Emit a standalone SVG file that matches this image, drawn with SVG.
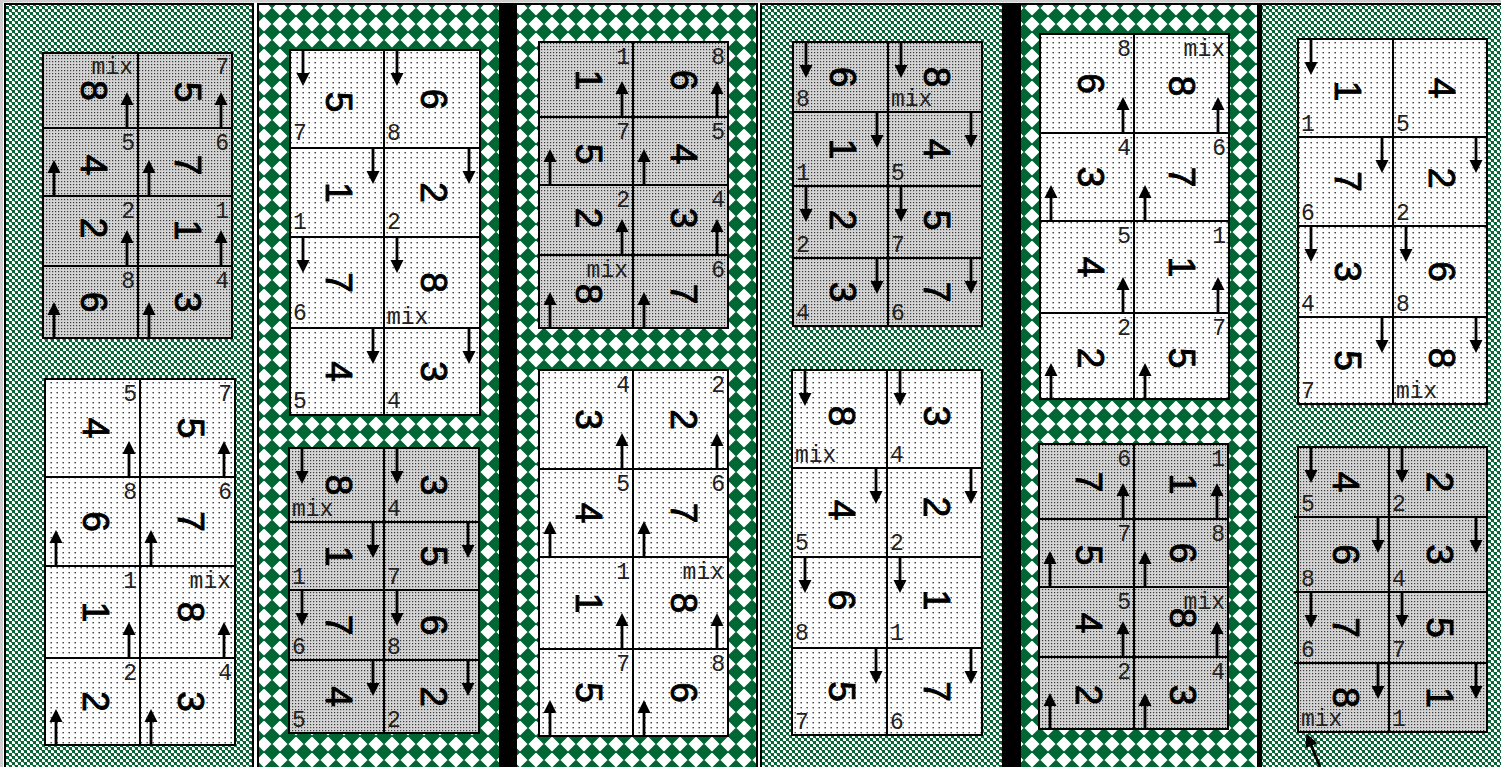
<svg xmlns="http://www.w3.org/2000/svg" xmlns:xlink="http://www.w3.org/1999/xlink" width="1501" height="767" viewBox="0 0 1501 767">
<style>
.d{font-family:"Liberation Sans",Arial,sans-serif;font-size:37px;text-anchor:middle;fill:#000;stroke:#000;stroke-width:0.9}
.l{font-family:"Liberation Mono","Courier New",monospace;font-size:23px;fill:#222}
.e{text-anchor:end}
.sh{fill:url(#shade);stroke:#000;stroke-width:2}
.wh{fill:url(#dots);stroke:#000;stroke-width:2}
.col{stroke:#000;stroke-width:2}
</style>
<defs>
<pattern id="spk" width="6" height="6" patternUnits="userSpaceOnUse"><rect width="6" height="6" fill="#fff"/><rect width="3" height="3" fill="#0a6636"/><rect x="3" y="3" width="3" height="3" fill="#0a6636"/><rect x="2" y="3" width="1" height="1" fill="#5a9a74"/><rect x="5" y="0" width="1" height="1" fill="#5a9a74"/></pattern>
<pattern id="dia" width="16" height="16" patternUnits="userSpaceOnUse"><rect width="16" height="16" fill="#fff"/><path d="M0,-8.5L8.5,0L0,8.5L-8.5,0ZM16,-8.5L24.5,0L16,8.5L7.5,0ZM0,7.5L8.5,16L0,24.5L-8.5,16ZM16,7.5L24.5,16L16,24.5L7.5,16Z" fill="#006633"/></pattern>
<pattern id="shade" width="3" height="3" patternUnits="userSpaceOnUse"><rect width="3" height="3" fill="#d4d4d4"/><rect x="1" y="1" width="1.2" height="1.2" fill="#3a3a3a"/></pattern>
<pattern id="dots" width="6" height="5" patternUnits="userSpaceOnUse"><rect width="6" height="5" fill="#fff"/><rect x="2.5" y="2" width="1.4" height="1.4" fill="#333"/></pattern>
<g id="au"><line x1="0" y1="0" x2="0" y2="-24" stroke="#000" stroke-width="2.8"/><path d="M-6.5,-23L0,-36L6.5,-23Z" fill="#000"/></g>
<g id="ad"><line x1="0" y1="0" x2="0" y2="24" stroke="#000" stroke-width="2.8"/><path d="M-6.5,23L0,36L6.5,23Z" fill="#000"/></g>
</defs>
<rect width="1501" height="767" fill="#fff"/>
<rect width="1501" height="2.5" fill="#cfcfcf"/>
<rect width="3" height="767" fill="#cfcfcf"/>
<g id="panels">
<rect class="col" x="5" y="4" width="248" height="775" fill="url(#spk)"/>
<rect class="col" x="258" y="4" width="242" height="775" fill="url(#dia)"/>
<rect x="500" y="3" width="16" height="775" fill="#000"/>
<rect class="col" x="516" y="4" width="241" height="775" fill="url(#dia)"/>
<rect class="col" x="761" y="4" width="242" height="775" fill="url(#spk)"/>
<rect x="1003" y="3" width="17" height="775" fill="#000"/>
<rect class="col" x="1020" y="4" width="238" height="775" fill="url(#dia)"/>
<rect class="col" x="1261" y="4" width="250" height="775" fill="url(#spk)"/>
<rect x="1258" y="3" width="4" height="775" fill="#000"/>
</g>

<g id="g1">
<g id="g1-r1l"><rect class="sh" x="43" y="53" width="95" height="75"/><text class="d" transform="translate(93.5 90.5) rotate(90)" y="13">8</text><text class="l e" x="133" y="74">mix</text></g>
<g id="g1-r1r"><rect class="sh" x="138" y="53" width="94" height="75"/><text class="d" transform="translate(188 92) rotate(90)" y="13">5</text><text class="l e" x="229" y="74">7</text></g>
<g id="g1-r2l"><rect class="sh" x="43" y="128" width="95" height="68"/><text class="d" transform="translate(93.5 165) rotate(90)" y="13">4</text><text class="l e" x="135" y="150">5</text></g>
<g id="g1-r2r"><rect class="sh" x="138" y="128" width="94" height="68"/><text class="d" transform="translate(188 165) rotate(90)" y="13">7</text><text class="l e" x="229" y="150">6</text></g>
<g id="g1-r3l"><rect class="sh" x="43" y="196" width="95" height="70"/><text class="d" transform="translate(93.5 228) rotate(90)" y="13">2</text><text class="l e" x="135" y="218">2</text></g>
<g id="g1-r3r"><rect class="sh" x="138" y="196" width="94" height="70"/><text class="d" transform="translate(188 230) rotate(90)" y="13">1</text><text class="l e" x="229" y="218">1</text></g>
<g id="g1-r4l"><rect class="sh" x="43" y="266" width="95" height="72"/><text class="d" transform="translate(93.5 302) rotate(90)" y="13">6</text><text class="l e" x="135" y="288">8</text></g>
<g id="g1-r4r"><rect class="sh" x="138" y="266" width="94" height="72"/><text class="d" transform="translate(188 302) rotate(90)" y="13">3</text><text class="l e" x="229" y="288">4</text></g>
</g>

<g id="g2">
<g id="g2-r1l"><rect class="wh" x="45" y="379" width="95" height="98"/><text class="d" transform="translate(95.5 428) rotate(90)" y="13">4</text><text class="l e" x="137" y="401">5</text></g>
<g id="g2-r1r"><rect class="wh" x="140" y="379" width="95" height="98"/><text class="d" transform="translate(190.5 428) rotate(90)" y="13">5</text><text class="l e" x="232" y="401">7</text></g>
<g id="g2-r2l"><rect class="wh" x="45" y="477" width="95" height="89"/><text class="d" transform="translate(95.5 521.5) rotate(90)" y="13">6</text><text class="l e" x="137" y="499">8</text></g>
<g id="g2-r2r"><rect class="wh" x="140" y="477" width="95" height="89"/><text class="d" transform="translate(190.5 521.5) rotate(90)" y="13">7</text><text class="l e" x="232" y="499">6</text></g>
<g id="g2-r3l"><rect class="wh" x="45" y="566" width="95" height="92"/><text class="d" transform="translate(95.5 612) rotate(90)" y="13">1</text><text class="l e" x="137" y="588">1</text></g>
<g id="g2-r3r"><rect class="wh" x="140" y="566" width="95" height="92"/><text class="d" transform="translate(190.5 612) rotate(90)" y="13">8</text><text class="l e" x="231" y="588">mix</text></g>
<g id="g2-r4l"><rect class="wh" x="45" y="658" width="95" height="87"/><text class="d" transform="translate(95.5 701.5) rotate(90)" y="13">2</text><text class="l e" x="137" y="680">2</text></g>
<g id="g2-r4r"><rect class="wh" x="140" y="658" width="95" height="87"/><text class="d" transform="translate(190.5 701.5) rotate(90)" y="13">3</text><text class="l e" x="232" y="680">4</text></g>
</g>

<g id="g3">
<g id="g3-r1l"><rect class="wh" x="290" y="50" width="94" height="98"/><text class="d" transform="translate(339 102) rotate(90)" y="13">5</text><text class="l" x="293" y="140">7</text></g>
<g id="g3-r1r"><rect class="wh" x="384" y="50" width="96" height="98"/><text class="d" transform="translate(434 99) rotate(90)" y="13">6</text><text class="l" x="387" y="140">8</text></g>
<g id="g3-r2l"><rect class="wh" x="290" y="148" width="94" height="89"/><text class="d" transform="translate(339 192.5) rotate(90)" y="13">1</text><text class="l" x="293" y="229">1</text></g>
<g id="g3-r2r"><rect class="wh" x="384" y="148" width="96" height="89"/><text class="d" transform="translate(434 192.5) rotate(90)" y="13">2</text><text class="l" x="387" y="229">2</text></g>
<g id="g3-r3l"><rect class="wh" x="290" y="237" width="94" height="91"/><text class="d" transform="translate(339 282.5) rotate(90)" y="13">7</text><text class="l" x="293" y="320">6</text></g>
<g id="g3-r3r"><rect class="wh" x="384" y="237" width="96" height="91"/><text class="d" transform="translate(434 282.5) rotate(90)" y="13">8</text><text class="l" x="387" y="324">mix</text></g>
<g id="g3-r4l"><rect class="wh" x="290" y="328" width="94" height="87"/><text class="d" transform="translate(339 371.5) rotate(90)" y="13">4</text><text class="l" x="293" y="408">5</text></g>
<g id="g3-r4r"><rect class="wh" x="384" y="328" width="96" height="87"/><text class="d" transform="translate(434 371.5) rotate(90)" y="13">3</text><text class="l" x="387" y="408">4</text></g>
</g>

<g id="g4">
<g id="g4-r1l"><rect class="sh" x="289" y="448" width="95" height="74"/><text class="d" transform="translate(338.5 485) rotate(90)" y="13">8</text><text class="l" x="292" y="516">mix</text></g>
<g id="g4-r1r"><rect class="sh" x="384" y="448" width="95" height="74"/><text class="d" transform="translate(433.5 485) rotate(90)" y="13">3</text><text class="l" x="387" y="516">4</text></g>
<g id="g4-r2l"><rect class="sh" x="289" y="522" width="95" height="68"/><text class="d" transform="translate(338.5 556) rotate(90)" y="13">1</text><text class="l" x="292" y="584">1</text></g>
<g id="g4-r2r"><rect class="sh" x="384" y="522" width="95" height="68"/><text class="d" transform="translate(433.5 556) rotate(90)" y="13">5</text><text class="l" x="387" y="584">7</text></g>
<g id="g4-r3l"><rect class="sh" x="289" y="590" width="95" height="70"/><text class="d" transform="translate(338.5 625) rotate(90)" y="13">7</text><text class="l" x="292" y="654">6</text></g>
<g id="g4-r3r"><rect class="sh" x="384" y="590" width="95" height="70"/><text class="d" transform="translate(433.5 625) rotate(90)" y="13">6</text><text class="l" x="387" y="654">8</text></g>
<g id="g4-r4l"><rect class="sh" x="289" y="660" width="95" height="73"/><text class="d" transform="translate(338.5 696.5) rotate(90)" y="13">4</text><text class="l" x="292" y="727">5</text></g>
<g id="g4-r4r"><rect class="sh" x="384" y="660" width="95" height="73"/><text class="d" transform="translate(433.5 696.5) rotate(90)" y="13">2</text><text class="l" x="387" y="727">2</text></g>
</g>

<g id="g5">
<g id="g5-r1l"><rect class="sh" x="539" y="42" width="94" height="75"/><text class="d" transform="translate(589 80) rotate(90)" y="13">1</text><text class="l e" x="630" y="64">1</text></g>
<g id="g5-r1r"><rect class="sh" x="633" y="42" width="95" height="75"/><text class="d" transform="translate(683.5 80) rotate(90)" y="13">6</text><text class="l e" x="725" y="64">8</text></g>
<g id="g5-r2l"><rect class="sh" x="539" y="117" width="94" height="68"/><text class="d" transform="translate(589 154) rotate(90)" y="13">5</text><text class="l e" x="630" y="139">7</text></g>
<g id="g5-r2r"><rect class="sh" x="633" y="117" width="95" height="68"/><text class="d" transform="translate(683.5 154) rotate(90)" y="13">4</text><text class="l e" x="725" y="139">5</text></g>
<g id="g5-r3l"><rect class="sh" x="539" y="185" width="94" height="70"/><text class="d" transform="translate(589 218) rotate(90)" y="13">2</text><text class="l e" x="630" y="207">2</text></g>
<g id="g5-r3r"><rect class="sh" x="633" y="185" width="95" height="70"/><text class="d" transform="translate(683.5 218) rotate(90)" y="13">3</text><text class="l e" x="725" y="207">4</text></g>
<g id="g5-r4l"><rect class="sh" x="539" y="255" width="94" height="73"/><text class="d" transform="translate(589 294) rotate(90)" y="13">8</text><text class="l e" x="628" y="277">mix</text></g>
<g id="g5-r4r"><rect class="sh" x="633" y="255" width="95" height="73"/><text class="d" transform="translate(683.5 294) rotate(90)" y="13">7</text><text class="l e" x="725" y="277">6</text></g>
</g>

<g id="g6">
<g id="g6-r1l"><rect class="wh" x="539" y="370" width="94" height="99"/><text class="d" transform="translate(589 419.5) rotate(90)" y="13">3</text><text class="l e" x="630" y="392">4</text></g>
<g id="g6-r1r"><rect class="wh" x="633" y="370" width="95" height="99"/><text class="d" transform="translate(683.5 419.5) rotate(90)" y="13">2</text><text class="l e" x="725" y="392">2</text></g>
<g id="g6-r2l"><rect class="wh" x="539" y="469" width="94" height="88"/><text class="d" transform="translate(589 513) rotate(90)" y="13">4</text><text class="l e" x="630" y="491">5</text></g>
<g id="g6-r2r"><rect class="wh" x="633" y="469" width="95" height="88"/><text class="d" transform="translate(683.5 513) rotate(90)" y="13">7</text><text class="l e" x="725" y="491">6</text></g>
<g id="g6-r3l"><rect class="wh" x="539" y="557" width="94" height="92"/><text class="d" transform="translate(589 603) rotate(90)" y="13">1</text><text class="l e" x="630" y="579">1</text></g>
<g id="g6-r3r"><rect class="wh" x="633" y="557" width="95" height="92"/><text class="d" transform="translate(683.5 603) rotate(90)" y="13">8</text><text class="l e" x="724" y="579">mix</text></g>
<g id="g6-r4l"><rect class="wh" x="539" y="649" width="94" height="87"/><text class="d" transform="translate(589 692.5) rotate(90)" y="13">5</text><text class="l e" x="630" y="671">7</text></g>
<g id="g6-r4r"><rect class="wh" x="633" y="649" width="95" height="87"/><text class="d" transform="translate(683.5 692.5) rotate(90)" y="13">6</text><text class="l e" x="725" y="671">8</text></g>
</g>

<g id="g7">
<g id="g7-r1l"><rect class="sh" x="793" y="42" width="95" height="70"/><text class="d" transform="translate(842.5 77) rotate(90)" y="13">6</text><text class="l" x="796" y="106">8</text></g>
<g id="g7-r1r"><rect class="sh" x="888" y="42" width="94" height="70"/><text class="d" transform="translate(937 77) rotate(90)" y="13">8</text><text class="l" x="891" y="106">mix</text></g>
<g id="g7-r2l"><rect class="sh" x="793" y="112" width="95" height="74"/><text class="d" transform="translate(842.5 149) rotate(90)" y="13">1</text><text class="l" x="796" y="180">1</text></g>
<g id="g7-r2r"><rect class="sh" x="888" y="112" width="94" height="74"/><text class="d" transform="translate(937 149) rotate(90)" y="13">4</text><text class="l" x="891" y="180">5</text></g>
<g id="g7-r3l"><rect class="sh" x="793" y="186" width="95" height="72"/><text class="d" transform="translate(842.5 220) rotate(90)" y="13">2</text><text class="l" x="796" y="252">2</text></g>
<g id="g7-r3r"><rect class="sh" x="888" y="186" width="94" height="72"/><text class="d" transform="translate(937 220) rotate(90)" y="13">5</text><text class="l" x="891" y="252">7</text></g>
<g id="g7-r4l"><rect class="sh" x="793" y="258" width="95" height="68"/><text class="d" transform="translate(842.5 292) rotate(90)" y="13">3</text><text class="l" x="796" y="320">4</text></g>
<g id="g7-r4r"><rect class="sh" x="888" y="258" width="94" height="68"/><text class="d" transform="translate(937 292) rotate(90)" y="13">7</text><text class="l" x="891" y="320">6</text></g>
</g>

<g id="g8">
<g id="g8-r1l"><rect class="wh" x="792" y="370" width="95" height="98"/><text class="d" transform="translate(841.5 416) rotate(90)" y="13">8</text><text class="l" x="795" y="462">mix</text></g>
<g id="g8-r1r"><rect class="wh" x="887" y="370" width="95" height="98"/><text class="d" transform="translate(936.5 416) rotate(90)" y="13">3</text><text class="l" x="890" y="462">4</text></g>
<g id="g8-r2l"><rect class="wh" x="792" y="468" width="95" height="89"/><text class="d" transform="translate(841.5 510) rotate(90)" y="13">4</text><text class="l" x="795" y="550">5</text></g>
<g id="g8-r2r"><rect class="wh" x="887" y="468" width="95" height="89"/><text class="d" transform="translate(936.5 507) rotate(90)" y="13">2</text><text class="l" x="890" y="550">2</text></g>
<g id="g8-r3l"><rect class="wh" x="792" y="557" width="95" height="91"/><text class="d" transform="translate(841.5 600) rotate(90)" y="13">6</text><text class="l" x="795" y="640">8</text></g>
<g id="g8-r3r"><rect class="wh" x="887" y="557" width="95" height="91"/><text class="d" transform="translate(936.5 600) rotate(90)" y="13">1</text><text class="l" x="890" y="640">1</text></g>
<g id="g8-r4l"><rect class="wh" x="792" y="648" width="95" height="87"/><text class="d" transform="translate(841.5 691.5) rotate(90)" y="13">5</text><text class="l" x="795" y="729">7</text></g>
<g id="g8-r4r"><rect class="wh" x="887" y="648" width="95" height="87"/><text class="d" transform="translate(936.5 691.5) rotate(90)" y="13">7</text><text class="l" x="890" y="729">6</text></g>
</g>

<g id="g9">
<g id="g9-r1l"><rect class="wh" x="1040" y="34" width="94" height="99"/><text class="d" transform="translate(1091 83.5) rotate(90)" y="13">6</text><text class="l e" x="1131" y="56">8</text></g>
<g id="g9-r1r"><rect class="wh" x="1134" y="34" width="95" height="99"/><text class="d" transform="translate(1182 86) rotate(90)" y="13">8</text><text class="l e" x="1225" y="56">mix</text></g>
<g id="g9-r2l"><rect class="wh" x="1040" y="133" width="94" height="88"/><text class="d" transform="translate(1091 177) rotate(90)" y="13">3</text><text class="l e" x="1131" y="155">4</text></g>
<g id="g9-r2r"><rect class="wh" x="1134" y="133" width="95" height="88"/><text class="d" transform="translate(1182 177) rotate(90)" y="13">7</text><text class="l e" x="1226" y="155">6</text></g>
<g id="g9-r3l"><rect class="wh" x="1040" y="221" width="94" height="92"/><text class="d" transform="translate(1091 267) rotate(90)" y="13">4</text><text class="l e" x="1131" y="243">5</text></g>
<g id="g9-r3r"><rect class="wh" x="1134" y="221" width="95" height="92"/><text class="d" transform="translate(1182 267) rotate(90)" y="13">1</text><text class="l e" x="1226" y="243">1</text></g>
<g id="g9-r4l"><rect class="wh" x="1040" y="313" width="94" height="86"/><text class="d" transform="translate(1091 358) rotate(90)" y="13">2</text><text class="l e" x="1131" y="335">2</text></g>
<g id="g9-r4r"><rect class="wh" x="1134" y="313" width="95" height="86"/><text class="d" transform="translate(1182 358) rotate(90)" y="13">5</text><text class="l e" x="1226" y="335">7</text></g>
</g>

<g id="g10">
<g id="g10-r1l"><rect class="sh" x="1039" y="444" width="95" height="75"/><text class="d" transform="translate(1088.5 482) rotate(90)" y="13">7</text><text class="l e" x="1131" y="466">6</text></g>
<g id="g10-r1r"><rect class="sh" x="1134" y="444" width="94" height="75"/><text class="d" transform="translate(1183 484) rotate(90)" y="13">1</text><text class="l e" x="1225" y="466">1</text></g>
<g id="g10-r2l"><rect class="sh" x="1039" y="519" width="95" height="68"/><text class="d" transform="translate(1088.5 555) rotate(90)" y="13">5</text><text class="l e" x="1131" y="541">7</text></g>
<g id="g10-r2r"><rect class="sh" x="1134" y="519" width="94" height="68"/><text class="d" transform="translate(1183 553) rotate(90)" y="13">6</text><text class="l e" x="1225" y="541">8</text></g>
<g id="g10-r3l"><rect class="sh" x="1039" y="587" width="95" height="70"/><text class="d" transform="translate(1088.5 623) rotate(90)" y="13">4</text><text class="l e" x="1131" y="609">5</text></g>
<g id="g10-r3r"><rect class="sh" x="1134" y="587" width="94" height="70"/><text class="d" transform="translate(1183 618) rotate(90)" y="13">8</text><text class="l e" x="1225" y="609">mix</text></g>
<g id="g10-r4l"><rect class="sh" x="1039" y="657" width="95" height="72"/><text class="d" transform="translate(1088.5 695) rotate(90)" y="13">2</text><text class="l e" x="1131" y="679">2</text></g>
<g id="g10-r4r"><rect class="sh" x="1134" y="657" width="94" height="72"/><text class="d" transform="translate(1183 695) rotate(90)" y="13">3</text><text class="l e" x="1225" y="679">4</text></g>
</g>

<g id="g11">
<g id="g11-r1l"><rect class="wh" x="1298" y="39" width="95" height="98"/><text class="d" transform="translate(1347.5 91) rotate(90)" y="13">1</text><text class="l" x="1301" y="131">1</text></g>
<g id="g11-r1r"><rect class="wh" x="1393" y="39" width="94" height="98"/><text class="d" transform="translate(1442 88) rotate(90)" y="13">4</text><text class="l" x="1396" y="131">5</text></g>
<g id="g11-r2l"><rect class="wh" x="1298" y="137" width="95" height="89"/><text class="d" transform="translate(1347.5 181.5) rotate(90)" y="13">7</text><text class="l" x="1301" y="220">6</text></g>
<g id="g11-r2r"><rect class="wh" x="1393" y="137" width="94" height="89"/><text class="d" transform="translate(1442 178) rotate(90)" y="13">2</text><text class="l" x="1396" y="220">2</text></g>
<g id="g11-r3l"><rect class="wh" x="1298" y="226" width="95" height="91"/><text class="d" transform="translate(1347.5 271.5) rotate(90)" y="13">3</text><text class="l" x="1301" y="311">4</text></g>
<g id="g11-r3r"><rect class="wh" x="1393" y="226" width="94" height="91"/><text class="d" transform="translate(1442 271.5) rotate(90)" y="13">6</text><text class="l" x="1396" y="311">8</text></g>
<g id="g11-r4l"><rect class="wh" x="1298" y="317" width="95" height="87"/><text class="d" transform="translate(1347.5 360.5) rotate(90)" y="13">5</text><text class="l" x="1301" y="398">7</text></g>
<g id="g11-r4r"><rect class="wh" x="1393" y="317" width="94" height="87"/><text class="d" transform="translate(1442 358) rotate(90)" y="13">8</text><text class="l" x="1396" y="398">mix</text></g>
</g>

<g id="g12">
<g id="g12-r1l"><rect class="sh" x="1298" y="447" width="91" height="70"/><text class="d" transform="translate(1345.5 482) rotate(90)" y="13">4</text><text class="l" x="1301" y="511">5</text></g>
<g id="g12-r1r"><rect class="sh" x="1389" y="447" width="98" height="70"/><text class="d" transform="translate(1440 482) rotate(90)" y="13">2</text><text class="l" x="1392" y="511">2</text></g>
<g id="g12-r2l"><rect class="sh" x="1298" y="517" width="91" height="75"/><text class="d" transform="translate(1345.5 554.5) rotate(90)" y="13">6</text><text class="l" x="1301" y="586">8</text></g>
<g id="g12-r2r"><rect class="sh" x="1389" y="517" width="98" height="75"/><text class="d" transform="translate(1440 554.5) rotate(90)" y="13">3</text><text class="l" x="1392" y="586">4</text></g>
<g id="g12-r3l"><rect class="sh" x="1298" y="592" width="91" height="71"/><text class="d" transform="translate(1345.5 627.5) rotate(90)" y="13">7</text><text class="l" x="1301" y="657">6</text></g>
<g id="g12-r3r"><rect class="sh" x="1389" y="592" width="98" height="71"/><text class="d" transform="translate(1440 627.5) rotate(90)" y="13">5</text><text class="l" x="1392" y="657">7</text></g>
<g id="g12-r4l"><rect class="sh" x="1298" y="663" width="91" height="69"/><text class="d" transform="translate(1345.5 697.5) rotate(90)" y="13">8</text><text class="l" x="1301" y="726">mix</text></g>
<g id="g12-r4r"><rect class="sh" x="1389" y="663" width="98" height="69"/><text class="d" transform="translate(1440 697.5) rotate(90)" y="13">1</text><text class="l" x="1392" y="726">1</text></g>
<path d="M1294,517H1298M1294,592H1298M1294,663H1298" stroke="#000" stroke-width="2"/>
</g>

<g id="arrows">
<use xlink:href="#au" x="127" y="128"/><use xlink:href="#au" x="221" y="128"/>
<use xlink:href="#au" x="54" y="196"/><use xlink:href="#au" x="149" y="196"/>
<use xlink:href="#au" x="127" y="266"/><use xlink:href="#au" x="221" y="266"/>
<use xlink:href="#au" x="54" y="338"/><use xlink:href="#au" x="149" y="338"/>

<use xlink:href="#au" x="129" y="477"/><use xlink:href="#au" x="224" y="477"/>
<use xlink:href="#au" x="56" y="566"/><use xlink:href="#au" x="151" y="566"/>
<use xlink:href="#au" x="129" y="658"/><use xlink:href="#au" x="224" y="658"/>
<use xlink:href="#au" x="56" y="745"/><use xlink:href="#au" x="151" y="745"/>

<use xlink:href="#ad" x="303" y="50"/><use xlink:href="#ad" x="397" y="50"/>
<use xlink:href="#ad" x="373" y="148"/><use xlink:href="#ad" x="469" y="148"/>
<use xlink:href="#ad" x="303" y="237"/><use xlink:href="#ad" x="397" y="237"/>
<use xlink:href="#ad" x="373" y="328"/><use xlink:href="#ad" x="469" y="328"/>

<use xlink:href="#ad" x="302" y="448"/><use xlink:href="#ad" x="397" y="448"/>
<use xlink:href="#ad" x="373" y="522"/><use xlink:href="#ad" x="468" y="522"/>
<use xlink:href="#ad" x="302" y="590"/><use xlink:href="#ad" x="397" y="590"/>
<use xlink:href="#ad" x="373" y="660"/><use xlink:href="#ad" x="468" y="660"/>

<use xlink:href="#au" x="622" y="117"/><use xlink:href="#au" x="717" y="117"/>
<use xlink:href="#au" x="550" y="185"/><use xlink:href="#au" x="644" y="185"/>
<use xlink:href="#au" x="622" y="255"/><use xlink:href="#au" x="717" y="255"/>
<use xlink:href="#au" x="550" y="328"/><use xlink:href="#au" x="644" y="328"/>

<use xlink:href="#au" x="622" y="469"/><use xlink:href="#au" x="717" y="469"/>
<use xlink:href="#au" x="550" y="557"/><use xlink:href="#au" x="644" y="557"/>
<use xlink:href="#au" x="622" y="649"/><use xlink:href="#au" x="717" y="649"/>
<use xlink:href="#au" x="550" y="736"/><use xlink:href="#au" x="644" y="736"/>

<use xlink:href="#ad" x="806" y="42"/><use xlink:href="#ad" x="901" y="42"/>
<use xlink:href="#ad" x="877" y="112"/><use xlink:href="#ad" x="971" y="112"/>
<use xlink:href="#ad" x="806" y="186"/><use xlink:href="#ad" x="901" y="186"/>
<use xlink:href="#ad" x="877" y="258"/><use xlink:href="#ad" x="971" y="258"/>

<use xlink:href="#ad" x="805" y="370"/><use xlink:href="#ad" x="900" y="370"/>
<use xlink:href="#ad" x="876" y="468"/><use xlink:href="#ad" x="971" y="468"/>
<use xlink:href="#ad" x="805" y="557"/><use xlink:href="#ad" x="900" y="557"/>
<use xlink:href="#ad" x="876" y="648"/><use xlink:href="#ad" x="971" y="648"/>

<use xlink:href="#au" x="1123" y="133"/><use xlink:href="#au" x="1218" y="133"/>
<use xlink:href="#au" x="1051" y="221"/><use xlink:href="#au" x="1145" y="221"/>
<use xlink:href="#au" x="1123" y="313"/><use xlink:href="#au" x="1218" y="313"/>
<use xlink:href="#au" x="1051" y="399"/><use xlink:href="#au" x="1145" y="399"/>

<use xlink:href="#au" x="1123" y="519"/><use xlink:href="#au" x="1217" y="519"/>
<use xlink:href="#au" x="1050" y="587"/><use xlink:href="#au" x="1145" y="587"/>
<use xlink:href="#au" x="1123" y="657"/><use xlink:href="#au" x="1217" y="657"/>
<use xlink:href="#au" x="1050" y="729"/><use xlink:href="#au" x="1145" y="729"/>

<use xlink:href="#ad" x="1311" y="39"/>
<use xlink:href="#ad" x="1382" y="137"/><use xlink:href="#ad" x="1476" y="137"/>
<use xlink:href="#ad" x="1311" y="226"/><use xlink:href="#ad" x="1406" y="226"/>
<use xlink:href="#ad" x="1382" y="317"/><use xlink:href="#ad" x="1476" y="317"/>

<use xlink:href="#ad" x="1311" y="447"/><use xlink:href="#ad" x="1402" y="447"/>
<use xlink:href="#ad" x="1378" y="517"/><use xlink:href="#ad" x="1476" y="517"/>
<use xlink:href="#ad" x="1311" y="592"/><use xlink:href="#ad" x="1402" y="592"/>
<use xlink:href="#ad" x="1378" y="663"/><use xlink:href="#ad" x="1476" y="663"/>

<use xlink:href="#au" transform="translate(1320 767) rotate(-22)"/>
</g>
</svg>
